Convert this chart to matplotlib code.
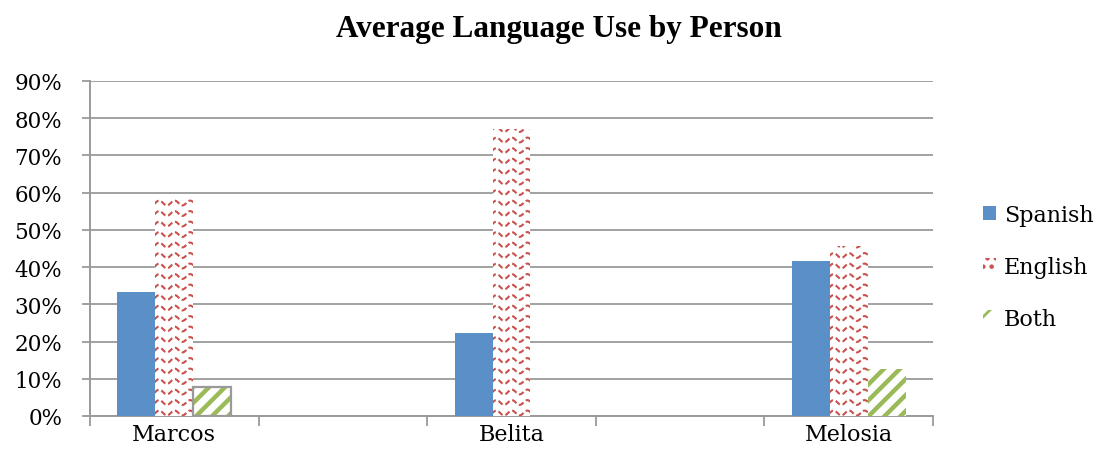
import numpy as np
import matplotlib
matplotlib.use("Agg")
import matplotlib.pyplot as plt
from matplotlib.lines import Line2D
from matplotlib.patches import Patch
from matplotlib.transforms import IdentityTransform

# ─── Daten (Anteile in %) ─────────────────────────────────────────────────────
personen = ["Marcos", "", "Belita", "", "Melosia"]
spanish  = [33.3, 0, 22.3, 0, 41.7]
english  = [58.9, 0, 77.2, 0, 45.7]
both     = [7.8, 0, 0, 0, 12.6]

BLAU  = "#5b8fc7"
ROT   = "#c9504b"
GRUEN = "#9bbb59"
GRAU  = "#9a9a9a"

SERIF = "DejaVu Serif"

fig = plt.figure(figsize=(10.93, 4.64), dpi=100)
ax = fig.add_axes([0.0823, 0.1013, 0.7713, 0.722])

x = np.arange(len(personen))
w = 0.225

ax.set_xlim(-0.5, len(personen) - 0.5)
ax.set_ylim(0, 90)

bars_es = ax.bar(x - w, spanish, w, color=BLAU, linewidth=0, zorder=3)
bars_en = ax.bar(x, english, w, color="white", linewidth=0, zorder=3)
bars_bo = ax.bar(x + w, both, w, color="white", linewidth=0, zorder=3)


def pixel_box(ax, bar):
    x0, y0 = ax.transData.transform((bar.get_x(), bar.get_y()))
    x1, y1 = ax.transData.transform((bar.get_x() + bar.get_width(),
                                     bar.get_y() + bar.get_height()))
    return x0, y0, x1, y1


def wellen(ax, bar, farbe):
    """Rote Wellenlinien als Muster, auf den Balken zugeschnitten."""
    if bar.get_height() <= 0:
        return
    x0, y0, x1, y1 = pixel_box(ax, bar)
    xs = np.arange(x0 - 8, x1 + 8, 0.5)
    for yc in np.arange(y0 + 3, y1 + 6, 10.5):
        ys = yc + 2.4 * np.sin(2 * np.pi * (xs - x0) / 15.5)
        ln = Line2D(xs, ys, transform=IdentityTransform(), color=farbe,
                    lw=1.5, dashes=(2.6, 1.4), zorder=4)
        ax.add_line(ln)
        ln.set_clip_path(bar)   # erst nach add_line, sonst überschrieben


def streifen(ax, bar, farbe):
    """Grüne Diagonalstreifen (/), auf den Balken zugeschnitten."""
    if bar.get_height() <= 0:
        return
    x0, y0, x1, y1 = pixel_box(ax, bar)
    h = y1 - y0
    for k in np.arange(x0 - h - 20, x1 + 20, 16):
        ln = Line2D([k, k + h + 40], [y0 - 20, y0 + h + 20],
                    transform=IdentityTransform(), color=farbe,
                    lw=3.2, solid_capstyle="butt", zorder=4)
        ax.add_line(ln)
        ln.set_clip_path(bar)


for b in bars_en:
    wellen(ax, b, ROT)
for b in bars_bo:
    streifen(ax, b, GRUEN)

# Marcos "Both" mit grauem Rahmen
rahmen = bars_bo[0]
ax.add_patch(plt.Rectangle((rahmen.get_x(), 0), rahmen.get_width(), rahmen.get_height(),
                           fill=False, edgecolor=GRAU, lw=1.6, zorder=5))

# ─── Achsen ───────────────────────────────────────────────────────────────────
ax.set_yticks(np.arange(0, 91, 10))
ax.set_yticklabels([f"{v}%" for v in range(0, 91, 10)], family=SERIF, fontsize=15.5)
ax.yaxis.grid(True, color=GRAU, lw=1.3, zorder=0)
ax.set_axisbelow(True)

ax.set_xticks(np.arange(-0.5, len(personen), 1.0))
ax.set_xticklabels([])
ax.set_xticks(x, minor=True)
ax.set_xticklabels(personen, minor=True, family=SERIF, fontsize=16)
ax.tick_params(axis="x", which="major", length=7, width=1.3, color=GRAU, direction="out")
ax.tick_params(axis="x", which="minor", length=0, pad=5)
ax.tick_params(axis="y", length=6, width=1.3, color=GRAU, pad=14)

for s in ("top", "right"):
    ax.spines[s].set_visible(False)
for s in ("left", "bottom"):
    ax.spines[s].set_color(GRAU)
    ax.spines[s].set_linewidth(1.4)

fig.suptitle("Average Language Use by Person", family="Liberation Serif",
             fontweight="bold", fontsize=22.5, x=0.511, y=0.967)

# ─── Legende ─────────────────────────────────────────────────────────────────
plt.rcParams["hatch.linewidth"] = 2.0
handles = [
    Patch(facecolor=BLAU, linewidth=0),
    Patch(facecolor="white", edgecolor=ROT, linewidth=0, hatch=".."),
    Patch(facecolor="white", edgecolor=GRUEN, linewidth=0, hatch="/"),
]
fig.legend(handles, ["Spanish", "English", "Both"], loc="center left",
           bbox_to_anchor=(0.899, 0.4224), frameon=False,
           prop={"family": SERIF, "size": 16},
           handlelength=0.6, handleheight=0.6, handletextpad=0.35,
           labelspacing=1.35, borderaxespad=0, borderpad=0)

fig.savefig("out.png", dpi=100)
